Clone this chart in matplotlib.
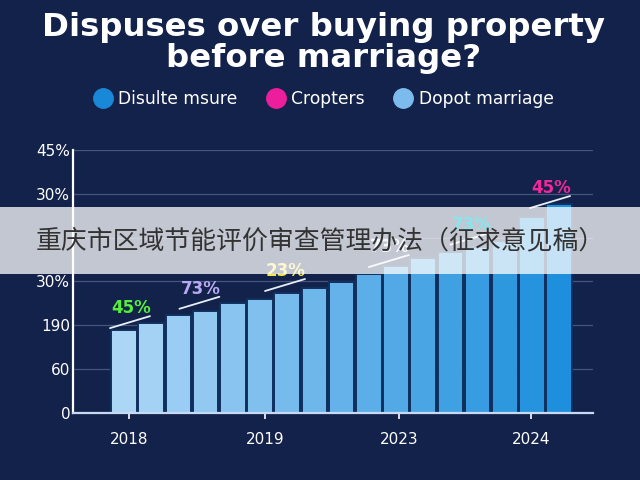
import numpy as np
import matplotlib
matplotlib.use("Agg")
import matplotlib.pyplot as plt
from matplotlib.lines import Line2D
from matplotlib.patches import Rectangle
from matplotlib.colors import LinearSegmentedColormap
from matplotlib.transforms import offset_copy

# === data ===
bar_values = [1.89, 2.05, 2.24, 2.33, 2.51, 2.60, 2.74, 2.85, 2.99,
              3.17, 3.36, 3.54, 3.68, 3.79, 3.93, 4.47, 4.77]
y_tick_labels = ["0", "60", "190", "30%", "", "30%", "45%"]
x_tick_pos = [0.2, 5.2, 10.1, 14.95]
x_tick_labels = ["2018", "2019", "2023", "2024"]
# bar index the callout sits on, text, colour
callout_bars = [0, 2, 5, 9, 12, 15]
callout_texts = ["45%", "73%", "23%", "73%", "73%", "45%"]
callout_colors = ["#55ee3a", "#b9a9f2", "#f4e64a", "#dcecf8", "#86e6f0", "#f0289c"]
legend_labels = ["Disulte msure", "Cropters", "Dopot marriage"]
legend_colors = ["#1a88d8", "#ec1e9c", "#7cbcec"]

# small pixel nudges for the callouts (layout only)
nudges = [(-14, 2), (1, 6), (5, 8), (0, 7), (0, 7), (-2, 9)]

bg = "#13224a"
plt.rcParams["font.family"] = ["DejaVu Sans"]

fig = plt.figure(figsize=(6.4, 4.8), dpi=100, facecolor=bg)
ax = fig.add_axes([0.114, 0.1396, 0.813, 0.548])
ax.set_facecolor(bg)

n = len(bar_values)
x = np.arange(n)
cmap = LinearSegmentedColormap.from_list("blues", ["#acd6f6", "#1d8fdc"])
cols = [cmap(i / (n - 1)) for i in range(n)]
ax.bar(x, bar_values, width=0.94, color=cols, edgecolor="#10305e", linewidth=1.4, zorder=3)

ax.set_xlim(-1.876, 17.25)
ax.set_ylim(0, 6)
ax.set_yticks(range(len(y_tick_labels)))
ax.set_yticklabels(y_tick_labels)
ax.set_xticks(x_tick_pos)
ax.set_xticklabels(x_tick_labels)
ax.tick_params(axis="y", length=0, pad=2, labelcolor="white", labelsize=11)
ax.tick_params(axis="x", length=4, width=1.2, color="white", pad=10,
               labelcolor="white", labelsize=11)
for yv in range(1, 7):
    ax.axhline(yv, color="#46557e", linewidth=0.9, zorder=1)

for s in ["top", "right"]:
    ax.spines[s].set_visible(False)
ax.spines["left"].set_color("white")
ax.spines["left"].set_linewidth(1.6)
ax.spines["bottom"].set_color("#c8daf2")
ax.spines["bottom"].set_linewidth(1.6)
ax.spines["bottom"].set_zorder(4)

# callouts: short white line rising from just above a bar top, label above it
for (i, txt, c), (dx, dy) in zip(zip(callout_bars, callout_texts, callout_colors), nudges):
    top = (i, bar_values[i])
    start_tr = offset_copy(ax.transData, fig=fig, x=dx, y=dy, units="dots")
    z = 11 if c == "#86e6f0" else 5   # the cyan one shows over the banner
    ax.annotate("", xy=top, xycoords=start_tr, xytext=(40, 12),
                textcoords="offset pixels",
                arrowprops=dict(arrowstyle="-", color="#e6eef8", lw=1.3,
                                shrinkA=0, shrinkB=0),
                zorder=5)
    ax.annotate(txt, xy=top, xycoords=start_tr, xytext=(21, 20),
                textcoords="offset pixels", ha="center", va="center",
                color=c, fontsize=12, fontweight="bold", zorder=z,
                annotation_clip=False)

# title
fig.text(0.506, 0.943, "Dispuses over buying property", ha="center", va="center",
         color="white", fontsize=23.3, fontweight="bold")
fig.text(0.506, 0.878, "before marriage?", ha="center", va="center",
         color="white", fontsize=23.3, fontweight="bold")

# legend
handles = [Line2D([], [], marker="o", linestyle="", markersize=14,
                  markerfacecolor=c, markeredgecolor=c) for c in legend_colors]
fig.legend(handles, legend_labels, loc="center", bbox_to_anchor=(0.506, 0.794),
           ncol=3, frameon=False, fontsize=12.3, labelcolor="white",
           handletextpad=0.4, columnspacing=1.75, handlelength=1.0)

# translucent banner across the chart
ax.add_patch(Rectangle((0, 0.429), 1, 0.1396, transform=fig.transFigure,
                       facecolor="white", alpha=0.75, edgecolor="none",
                       zorder=10, clip_on=False))
ax.text(0.055, 0.498, "重庆市区域节能评价审查管理办法（征求意见稿）",
        transform=fig.transFigure, ha="left", va="center", color="#333333",
        fontsize=18.6, family=["Noto Sans CJK SC", "DejaVu Sans"], zorder=12)

fig.savefig("out.png", dpi=100, facecolor=bg)
